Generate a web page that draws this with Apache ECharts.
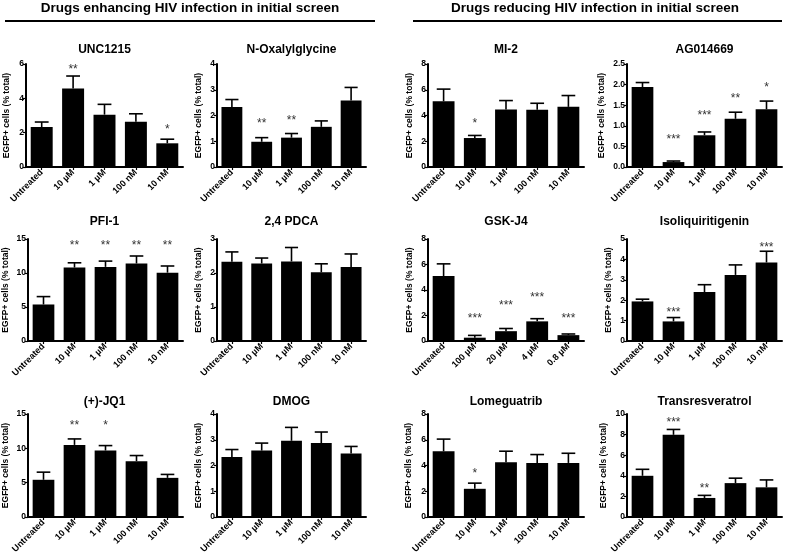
<!DOCTYPE html>
<html><head><meta charset="utf-8">
<script src="https://cdn.jsdelivr.net/npm/echarts@6/dist/echarts.min.js"></script>
<style>html,body{margin:0;padding:0;background:#fff}#c{width:785px;height:557px}</style>
</head><body><div id="c"></div>
<script>
// ---------- categories ----------
const doseCats = ['Untreated', '10 µM', '1 µM', '100 nM', '10 nM'];
const gskCats  = ['Untreated', '100 µM', '20 µM', '4 µM', '0.8 µM'];

// ---------- values (mean, SEM, significance, star level) ----------
const unc1215Mean = [2.33, 4.58, 3.05, 2.63, 1.38];
const unc1215Sem  = [0.29, 0.72, 0.60, 0.47, 0.24];
const unc1215Stars = ['', '**', '', '', '*'];
const unc1215StarY = [null, 5.85, null, null, 2.35];

const noxMean = [2.33, 0.98, 1.14, 1.56, 2.58];
const noxSem  = [0.29, 0.16, 0.16, 0.23, 0.51];
const noxStars = ['', '**', '**', '', ''];
const noxStarY = [null, 1.78, 1.92, null, null];

const mi2Mean = [5.10, 2.25, 4.46, 4.44, 4.67];
const mi2Sem  = [0.95, 0.20, 0.70, 0.51, 0.88];
const mi2Stars = ['', '*', '', '', ''];
const mi2StarY = [null, 3.6, null, null, null];

const ag014669Mean = [1.94, 0.12, 0.77, 1.17, 1.40];
const ag014669Sem  = [0.11, 0.025, 0.08, 0.16, 0.20];
const ag014669Stars = ['', '***', '***', '**', '*'];
const ag014669StarY = [null, 0.73, 1.33, 1.72, 2.0];

const pfi1Mean = [5.37, 10.8, 10.9, 11.4, 10.05];
const pfi1Sem  = [1.16, 0.70, 0.85, 1.10, 0.98];
const pfi1Stars = ['', '**', '**', '**', '**'];
const pfi1StarY = [null, 14.4, 14.4, 14.4, 14.4];

const pdcaMean = [2.33, 2.28, 2.34, 2.02, 2.18];
const pdcaSem  = [0.29, 0.16, 0.41, 0.25, 0.38];
const pdcaStars = ['', '', '', '', ''];
const pdcaStarY = [null, null, null, null, null];

const gskj4Mean = [5.10, 0.26, 0.77, 1.54, 0.46];
const gskj4Sem  = [0.95, 0.18, 0.21, 0.21, 0.09];
const gskj4Stars = ['', '***', '***', '***', '***'];
const gskj4StarY = [null, 2.0, 3.0, 3.65, 2.0];

const isoMean = [1.94, 0.96, 2.40, 3.24, 3.85];
const isoSem  = [0.11, 0.19, 0.36, 0.49, 0.55];
const isoStars = ['', '***', '', '', '***'];
const isoStarY = [null, 1.52, null, null, 4.73];

const jq1Mean = [5.42, 10.5, 9.68, 8.13, 5.70];
const jq1Sem  = [1.11, 0.87, 0.72, 0.82, 0.50];
const jq1Stars = ['', '**', '*', '', ''];
const jq1StarY = [null, 13.8, 13.8, null, null];

const dmogMean = [2.33, 2.58, 2.96, 2.87, 2.47];
const dmogSem  = [0.29, 0.29, 0.52, 0.43, 0.27];
const dmogStars = ['', '', '', '', ''];
const dmogStarY = [null, null, null, null, null];

const lomeMean = [5.10, 2.19, 4.26, 4.20, 4.20];
const lomeSem  = [0.95, 0.44, 0.85, 0.65, 0.75];
const lomeStars = ['', '*', '', '', ''];
const lomeStarY = [null, 3.6, null, null, null];

const transMean = [4.00, 7.98, 1.85, 3.29, 2.88];
const transSem  = [0.63, 0.52, 0.25, 0.48, 0.72];
const transStars = ['', '***', '**', '', ''];
const transStarY = [null, 9.45, 3.07, null, null];

const yAxisMax  = [6, 4, 8, 2.5, 15, 3, 8, 5, 15, 4, 8, 10];
const yAxisStep = [2, 1, 2, 0.5, 5, 1, 2, 1, 5, 1, 2, 2];

const headerLeft = 'Drugs enhancing HIV infection in initial screen';
const headerRight = 'Drugs reducing HIV infection in initial screen';
const yName = 'EGFP+ cells (% total)';

// ---------- panels ----------
const panels = [
  {title: 'UNC1215', cats: doseCats, mean: unc1215Mean, sem: unc1215Sem, stars: unc1215Stars, starY: unc1215StarY},
  {title: 'N-Oxalylglycine', cats: doseCats, mean: noxMean, sem: noxSem, stars: noxStars, starY: noxStarY},
  {title: 'MI-2', cats: doseCats, mean: mi2Mean, sem: mi2Sem, stars: mi2Stars, starY: mi2StarY},
  {title: 'AG014669', cats: doseCats, mean: ag014669Mean, sem: ag014669Sem, stars: ag014669Stars, starY: ag014669StarY},
  {title: 'PFI-1', cats: doseCats, mean: pfi1Mean, sem: pfi1Sem, stars: pfi1Stars, starY: pfi1StarY},
  {title: '2,4 PDCA', cats: doseCats, mean: pdcaMean, sem: pdcaSem, stars: pdcaStars, starY: pdcaStarY},
  {title: 'GSK-J4', cats: gskCats, mean: gskj4Mean, sem: gskj4Sem, stars: gskj4Stars, starY: gskj4StarY},
  {title: 'Isoliquiritigenin', cats: doseCats, mean: isoMean, sem: isoSem, stars: isoStars, starY: isoStarY},
  {title: '(+)-JQ1', cats: doseCats, mean: jq1Mean, sem: jq1Sem, stars: jq1Stars, starY: jq1StarY},
  {title: 'DMOG', cats: doseCats, mean: dmogMean, sem: dmogSem, stars: dmogStars, starY: dmogStarY},
  {title: 'Lomeguatrib', cats: doseCats, mean: lomeMean, sem: lomeSem, stars: lomeStars, starY: lomeStarY},
  {title: 'Transresveratrol', cats: doseCats, mean: transMean, sem: transSem, stars: transStars, starY: transStarY}
];

// ---------- layout (pixels) ----------
const colX = [[26, 183], [217, 366], [428, 584], [627, 782]];
const rowY = [[64, 167], [239, 341], [414, 517]];
const titleY = [50, 222, 402];
const nameGaps = [15, 14, 14, 21, 18, 14, 14, 14, 18, 14, 15, 19];

const FONT = '"Liberation Sans", Arial, Helvetica, sans-serif';

const grids = [], xAxes = [], yAxes = [], series = [], graphics = [];

panels.forEach((p, i) => {
  const row = Math.floor(i / 4), col = i % 4;
  const [l, r] = colX[col];
  const [t, b] = rowY[row];
  grids.push({left: l, top: t, width: r - l, height: b - t, containLabel: false});
  xAxes.push({
    type: 'category', gridIndex: i, data: p.cats,
    axisLine: {lineStyle: {color: '#000', width: 2}},
    axisTick: {show: true, alignWithLabel: true, length: 3, lineStyle: {color: '#000', width: 1.2}},
    axisLabel: {rotate: 45, interval: 0, fontSize: 9, fontWeight: 'bold', color: '#000', margin: 4, fontFamily: FONT}
  });
  const step = yAxisStep[i];
  yAxes.push({
    type: 'value', gridIndex: i, min: 0, max: yAxisMax[i], interval: step,
    axisLine: {show: true, lineStyle: {color: '#000', width: 2}},
    axisTick: {show: true, length: 3, lineStyle: {color: '#000', width: 1.2}},
    splitLine: {show: false},
    axisLabel: {fontSize: 8.5, fontWeight: 'bold', color: '#000', margin: 2, fontFamily: FONT,
      formatter: v => step < 1 ? v.toFixed(1) : String(v)},
    name: yName, nameLocation: 'middle', nameGap: nameGaps[i],
    nameTextStyle: {fontSize: 8.5, fontWeight: 'bold', color: '#000', fontFamily: FONT}
  });
  series.push({
    type: 'bar', xAxisIndex: i, yAxisIndex: i, data: p.mean, barWidth: '70%',
    itemStyle: {color: '#000'}, silent: true
  });
  series.push({
    type: 'custom', xAxisIndex: i, yAxisIndex: i, silent: true,
    data: p.mean.map((m, k) => [k, m, m + p.sem[k]]),
    renderItem: function (params, api) {
      const c = api.value(0);
      const p0 = api.coord([c, api.value(1)]);
      const p1 = api.coord([c, api.value(2)]);
      const hw = api.size([1, 0])[0] * 0.22;
      return {type: 'group', children: [
        {type: 'line', shape: {x1: p0[0], y1: p0[1], x2: p1[0], y2: p1[1]}, style: {stroke: '#000', lineWidth: 1.6}},
        {type: 'line', shape: {x1: p1[0] - hw, y1: p1[1], x2: p1[0] + hw, y2: p1[1]}, style: {stroke: '#000', lineWidth: 1.6}}
      ]};
    }
  });
  const starData = [];
  p.stars.forEach((s, k) => { if (s) starData.push([k, p.starY[k]]); });
  if (starData.length) {
    series.push({
      type: 'custom', xAxisIndex: i, yAxisIndex: i, silent: true, data: starData,
      renderItem: function (params, api) {
        const k = api.value(0);
        const pt = api.coord([k, api.value(1)]);
        return {type: 'text', x: pt[0], y: pt[1] + 3, style: {
          text: p.stars[k], fontSize: 12, fontFamily: FONT, fill: '#333',
          align: 'center', verticalAlign: 'middle'}};
      }
    });
  }
  graphics.push({type: 'text', x: (l + r) / 2, y: titleY[row], style: {
    text: p.title, fontSize: 12, fontWeight: 'bold', fontFamily: FONT, fill: '#000',
    align: 'center', verticalAlign: 'middle'}});
});

graphics.push({type: 'text', x: 190, y: 8, style: {text: headerLeft, fontSize: 13.5, fontWeight: 'bold', fontFamily: FONT, fill: '#000', align: 'center', verticalAlign: 'middle'}});
graphics.push({type: 'text', x: 595, y: 8, style: {text: headerRight, fontSize: 13.5, fontWeight: 'bold', fontFamily: FONT, fill: '#000', align: 'center', verticalAlign: 'middle'}});
graphics.push({type: 'line', shape: {x1: 5, y1: 21, x2: 375, y2: 21}, style: {stroke: '#000', lineWidth: 2}});
graphics.push({type: 'line', shape: {x1: 413, y1: 21, x2: 782, y2: 21}, style: {stroke: '#000', lineWidth: 2}});

const chart = echarts.init(document.getElementById('c'), null, {renderer: 'canvas'});
chart.setOption({
  animation: false,
  backgroundColor: '#fff',
  grid: grids, xAxis: xAxes, yAxis: yAxes, series: series,
  graphic: graphics
});
</script></body></html>
